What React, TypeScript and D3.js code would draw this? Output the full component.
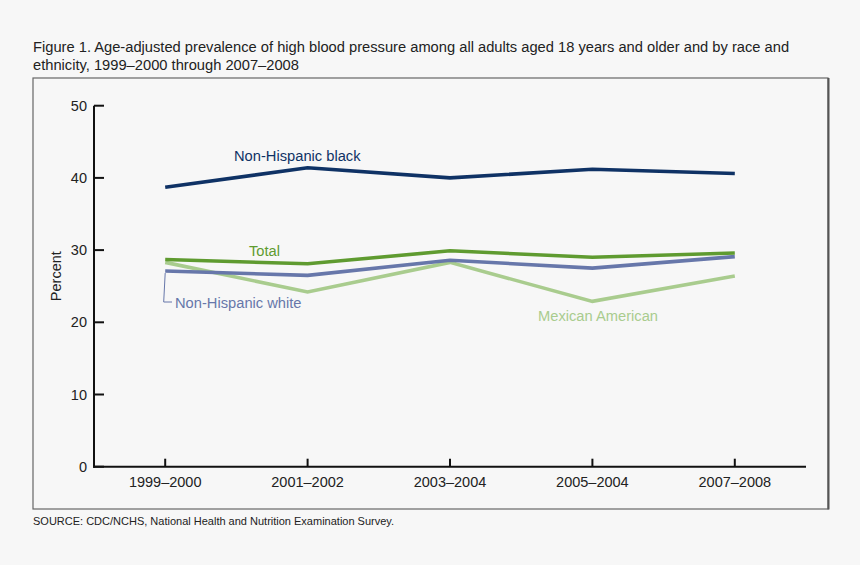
import * as d3 from 'd3';

const periods = ['1999–2000', '2001–2002', '2003–2004', '2005–2004', '2007–2008'];
const yTicks = [0, 10, 20, 30, 40, 50];

const nhBlack = [38.7, 41.4, 40.0, 41.2, 40.6];
const total = [28.7, 28.1, 29.9, 29.0, 29.6];
const nhWhite = [27.1, 26.5, 28.6, 27.5, 29.1];
const mexAmerican = [28.3, 24.2, 28.3, 22.9, 26.4];

const W = 860;
const H = 565;
const font = 'Arial, "Liberation Sans", Helvetica, sans-serif';

export default function App() {
  const x = d3.scalePoint<string>().domain(periods).range([94, 806]).padding(0.5);
  const y = d3.scaleLinear().domain([0, 50]).range([466.7, 105.7]);

  const line = d3.line<number>()
    .x((_, i) => x(periods[i]) ?? 0)
    .y(d => y(d));

  const series = [
    { name: 'Mexican American', values: mexAmerican, color: '#a9cc8e' },
    { name: 'Non-Hispanic white', values: nhWhite, color: '#6777aa' },
    { name: 'Total', values: total, color: '#5f9b30' },
    { name: 'Non-Hispanic black', values: nhBlack, color: '#0f3265' },
  ];

  const x0 = x(periods[0]) ?? 0;

  return (
    <div style={{ position: 'fixed', left: 0, top: 0 }}>
      <svg width={W} height={H} style={{ display: 'block', fontFamily: font }}>
        <rect x={0} y={0} width={W} height={H} fill="#f7f7f7" />
        <text x={33} y={52} fontSize={14.7} fill="#222">
          Figure 1. Age-adjusted prevalence of high blood pressure among all adults aged 18 years and older and by race and
        </text>
        <text x={33} y={70} fontSize={14.7} fill="#222">
          ethnicity, 1999–2000 through 2007–2008
        </text>

        {/* frame */}
        <rect x={33} y={78} width={795} height={431} fill="#f7f7f7" stroke="#666" strokeWidth={1.2} />
        <line x1={828.5} y1={78} x2={828.5} y2={509.5} stroke="#555" strokeWidth={2} />

        {/* y axis */}
        <line x1={94} y1={y(50)} x2={94} y2={y(0) + 1} stroke="#111" strokeWidth={2} />
        {yTicks.map(t => (
          <g key={t}>
            <line x1={94} x2={104} y1={y(t)} y2={y(t)} stroke="#111" strokeWidth={2} />
            <text x={87} y={y(t)} dy="0.35em" textAnchor="end" fontSize={14.5} fill="#222">{t}</text>
          </g>
        ))}
        <text transform={`translate(61,${y(25) - 10}) rotate(-90)`} textAnchor="middle" fontSize={14.5} fill="#222">
          Percent
        </text>

        {/* x axis */}
        <line x1={93} x2={806} y1={y(0)} y2={y(0)} stroke="#111" strokeWidth={2} />
        {periods.map(p => (
          <g key={p}>
            <line x1={x(p)} x2={x(p)} y1={y(0)} y2={y(0) - 8} stroke="#111" strokeWidth={2} />
            <text x={x(p)} y={y(0) + 20} textAnchor="middle" fontSize={14.5} fill="#222">{p}</text>
          </g>
        ))}

        {/* lines */}
        {series.map(s => (
          <path key={s.name} d={line(s.values) ?? ''} fill="none" stroke={s.color} strokeWidth={3.6} />
        ))}

        {/* labels */}
        <text x={234} y={161} fontSize={14.7} fill="#0f3265">Non-Hispanic black</text>
        <text x={249} y={256} fontSize={14.7} fill="#5f9b30">Total</text>
        <path d={`M${x0},${y(nhWhite[0]) + 2}L${x0 - 1.5},${302}H${172}`} fill="none" stroke="#6777aa" strokeWidth={1} />
        <text x={175} y={308} fontSize={14.7} fill="#6777aa">Non-Hispanic white</text>
        <text x={538} y={321} fontSize={14.7} fill="#a9cc8e">Mexican American</text>

        <text x={33} y={525} fontSize={11} fill="#222">
          SOURCE: CDC/NCHS, National Health and Nutrition Examination Survey.
        </text>
      </svg>
    </div>
  );
}
